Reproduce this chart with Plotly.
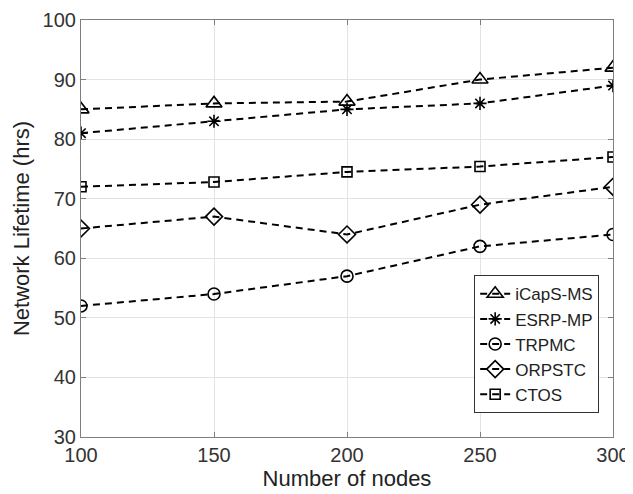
import plotly.graph_objects as go

nodes = [100, 150, 200, 250, 300]
icaps_ms = [85, 86, 86.3, 90, 92]
esrp_mp = [81, 83, 85, 86, 89]
trpmc = [52, 54, 57, 62, 64]
orpstc = [65, 67, 64, 69, 72]
ctos = [72, 72.8, 74.5, 75.4, 77]

series = [
    ("iCapS-MS", icaps_ms, "triangle-up-open", 14),
    ("ESRP-MP", esrp_mp, "asterisk-open", 11),
    ("TRPMC", trpmc, "circle-open", 12),
    ("ORPSTC", orpstc, "diamond-open", 13),
    ("CTOS", ctos, "square-open", 10),
]

FONT = "Liberation Sans, Arial, sans-serif"

fig = go.Figure()
for name, vals, sym, sz in series:
    fig.add_trace(go.Scatter(
        x=nodes, y=vals, name=name, mode="lines+markers",
        line=dict(color="black", width=2, dash="7px,5px"),
        marker=dict(symbol=sym, size=sz, color="black",
                    line=dict(color="black", width=1.6)),
    ))

axis_common = dict(
    showgrid=True, gridcolor="#e3e3e3", gridwidth=1,
    showline=True, linecolor="#7f7f7f", linewidth=1.2, mirror="ticks",
    ticks="inside", ticklen=5, tickcolor="#7f7f7f",
    tickfont=dict(family=FONT, size=20, color="#333333"),
    zeroline=False, automargin=False,
)

# the page body has an 8px margin, so the figure is shrunk to fit the window
fig.update_layout(
    width=625, height=486,
    paper_bgcolor="white", plot_bgcolor="white",
    margin=dict(l=73, r=20, t=12, b=57),
    showlegend=True,
    legend=dict(
        x=0.974, xanchor="right", y=0.057, yanchor="bottom",
        bordercolor="#333333", borderwidth=1, bgcolor="white",
        font=dict(family=FONT, size=17, color="#222222"),
        tracegroupgap=0, itemwidth=30,
    ),
    xaxis=dict(range=[100, 300], tickvals=[100, 150, 200, 250, 300],
               title=dict(text="Number of nodes", standoff=0,
                          font=dict(family=FONT, size=22, color="#222222")),
               **axis_common),
    yaxis=dict(range=[30, 100], tickvals=[30, 40, 50, 60, 70, 80, 90, 100],
               title=dict(text="Network Lifetime (hrs)", standoff=6,
                          font=dict(family=FONT, size=22, color="#222222")),
               **axis_common),
)

fig.write_html("out.html")
